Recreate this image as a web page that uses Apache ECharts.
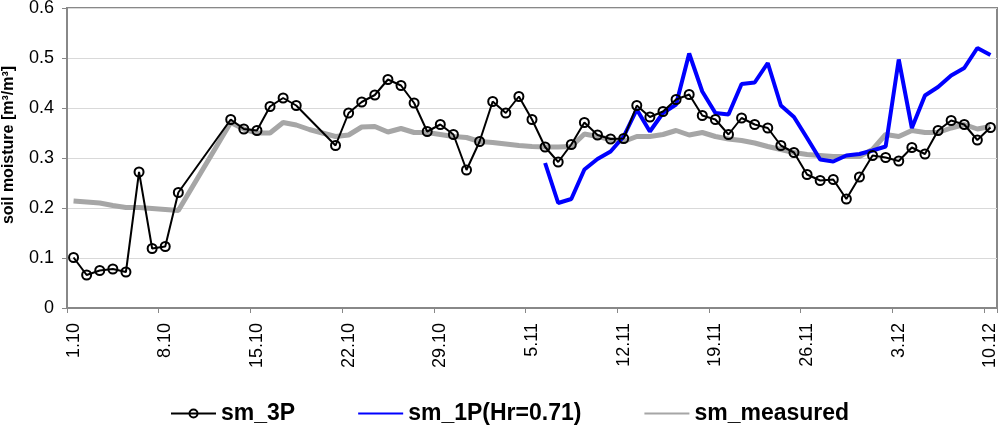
<!DOCTYPE html>
<html>
<head>
<meta charset="utf-8">
<script src="https://cdn.jsdelivr.net/npm/echarts@6/dist/echarts.min.js"></script>
<style>html,body{margin:0;padding:0;background:#fff}#c{width:1000px;height:426px}</style>
</head>
<body>
<div id="c"></div>
<script>
const categories = ["1.10","2.10","3.10","4.10","5.10","6.10","7.10","8.10","9.10","10.10","11.10","12.10","13.10","14.10","15.10","16.10","17.10","18.10","19.10","20.10","21.10","22.10","23.10","24.10","25.10","26.10","27.10","28.10","29.10","30.10","31.10","1.11","2.11","3.11","4.11","5.11","6.11","7.11","8.11","9.11","10.11","11.11","12.11","13.11","14.11","15.11","16.11","17.11","18.11","19.11","20.11","21.11","22.11","23.11","24.11","25.11","26.11","27.11","28.11","29.11","30.11","1.12","2.12","3.12","4.12","5.12","6.12","7.12","8.12","9.12","10.12"];

const sm3P = [0.101,0.066,0.075,0.078,0.072,0.272,0.119,0.123,0.231,null,null,null,
  0.377,0.358,0.355,0.403,0.420,0.405,null,null,0.325,0.390,0.412,0.426,0.457,0.445,0.410,0.353,0.367,0.347,
  0.276,0.333,0.413,0.390,0.423,0.377,0.322,0.292,0.327,0.371,0.346,0.338,0.339,0.405,0.382,0.393,0.417,0.427,
  0.385,0.377,0.347,0.380,0.367,0.360,0.325,0.311,0.267,0.255,0.257,0.218,0.262,0.305,0.301,0.294,0.321,0.308,
  0.355,0.375,0.367,0.336,0.361];

const sm1P = [null,null,null,null,null,null,null,null,null,null,null,null,null,null,null,null,null,null,
  null,null,null,null,null,null,null,null,null,null,null,null,null,null,null,null,null,null,
  0.290,0.210,0.218,0.277,0.298,0.313,0.343,0.397,0.353,0.390,0.407,0.509,0.433,0.390,0.387,0.448,0.451,0.490,
  0.405,0.382,0.340,0.297,0.293,0.305,0.308,0.315,0.323,0.497,0.360,0.425,0.442,0.465,0.480,0.520,0.506];

const smMeasured = [0.214,0.212,0.210,0.205,0.201,0.201,0.199,0.197,0.195,null,null,null,
  0.371,0.358,0.350,0.350,0.371,0.366,0.357,0.350,0.343,0.346,0.362,0.363,0.352,0.359,0.351,0.351,0.347,0.343,
  0.341,0.333,0.331,0.328,0.325,0.323,0.322,0.322,0.323,0.348,0.343,0.337,0.333,0.343,0.343,0.347,0.355,0.346,
  0.351,0.343,0.338,0.335,0.330,0.323,0.317,0.311,0.307,0.305,0.303,0.303,0.303,0.317,0.347,0.343,0.355,0.351,
  0.351,0.360,0.367,0.358,0.363];

const yTicks = [0, 0.1, 0.2, 0.3, 0.4, 0.5, 0.6];
const yTitle = 'soil moisture [m³/m³]';

const chart = echarts.init(document.getElementById('c'), null, {renderer: 'canvas'});
chart.setOption({
  animation: false,
  backgroundColor: '#fff',
  textStyle: {fontFamily: 'Liberation Sans, Arial, sans-serif'},
  grid: {left: 67, right: 3, top: 8, bottom: 118, show: true, borderColor: '#888', borderWidth: 2,
    containLabel: false, outerBoundsMode: 'none'},
  graphic: [{
    type: 'text', x: 9, y: 145, rotation: Math.PI / 2,
    style: {text: yTitle, align: 'center', verticalAlign: 'middle', fill: '#000',
      font: 'bold 16px "Liberation Sans", Arial, sans-serif'}
  }],
  legend: {
    data: [
      {name: 'sm_3P'},
      {name: 'sm_1P(Hr=0.71)', itemStyle: {opacity: 0}},
      {name: 'sm_measured', itemStyle: {opacity: 0}}
    ],
    left: 165, top: 397,
    itemWidth: 45, itemHeight: 10, itemGap: 62,
    textStyle: {fontSize: 23, fontWeight: 'bold', color: '#000', fontFamily: 'Liberation Sans, Arial, sans-serif'}
  },
  xAxis: {
    type: 'category',
    data: categories,
    boundaryGap: true,
    axisLine: {show: true, lineStyle: {color: '#888', width: 2}},
    axisTick: {show: true, interval: 6, alignWithLabel: false, length: 5, lineStyle: {color: '#888', width: 1}},
    axisLabel: {interval: 6, rotate: 90, margin: 15, fontSize: 18, color: '#000'},
    splitLine: {show: false}
  },
  yAxis: {
    type: 'value',
    min: yTicks[0], max: yTicks[yTicks.length - 1], interval: 0.1,
    axisLine: {show: true, lineStyle: {color: '#888', width: 2}},
    axisTick: {show: true, length: 5, lineStyle: {color: '#888'}},
    axisLabel: {fontSize: 18, color: '#000', margin: 13,
      formatter: function (v) { return String(Math.round(v * 10) / 10); }},
    splitLine: {show: true, lineStyle: {color: '#d9d9d9', width: 1}}
  },
  series: [
    {
      name: 'sm_3P', type: 'line', data: sm3P, connectNulls: true, z: 5,
      symbol: 'circle', symbolSize: 9, showAllSymbol: true,
      lineStyle: {color: '#000', width: 2},
      itemStyle: {color: 'rgba(255,255,255,0)', borderColor: '#000', borderWidth: 2}
    },
    {
      name: 'sm_1P(Hr=0.71)', type: 'line', data: sm1P, connectNulls: false, z: 3,
      symbol: 'none', lineStyle: {color: '#0000ff', width: 4},
      itemStyle: {color: '#0000ff'}
    },
    {
      name: 'sm_measured', type: 'line', data: smMeasured, connectNulls: true, z: 2,
      symbol: 'none', lineStyle: {color: '#a6a6a6', width: 5},
      itemStyle: {color: '#a6a6a6'}
    }
  ]
});
</script>
</body>
</html>
